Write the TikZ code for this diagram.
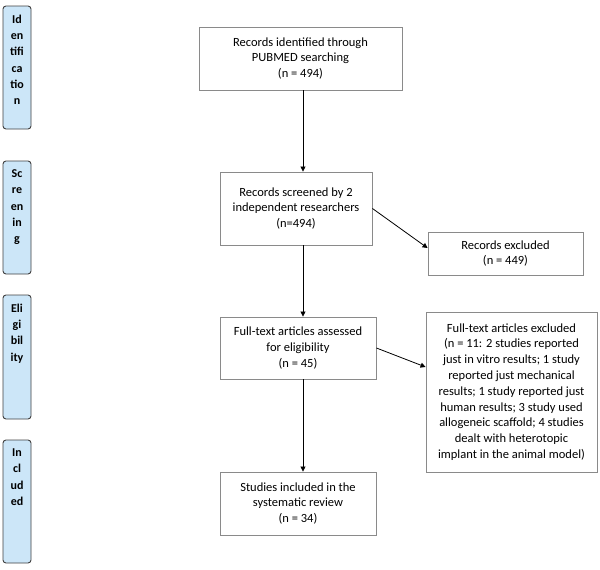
\documentclass[tikz,border=0pt]{standalone}
\usepackage{fontspec}
\setmainfont{Carlito}
\usetikzlibrary{arrows.meta}
\definecolor{sidefill}{HTML}{CCE6F8}
\definecolor{boxline}{HTML}{8A8A8A}
\begin{document}
\begin{tikzpicture}[x=1pt,y=-1pt,
  mainbox/.style={draw=boxline,line width=0.9pt,align=center,inner sep=0pt,
    font=\fontsize{12.5}{15.8}\selectfont},
  sidebox/.style={draw=black!75,fill=sidefill,rounded corners=3pt,line width=0.9pt,
    minimum width=28pt,inner sep=0pt},
  sidetext/.style={anchor=north,align=center,inner sep=0pt,
    font=\fontsize{12}{16.3}\selectfont\bfseries},
  arr/.style={-{Triangle[length=5pt,width=5pt]},line width=0.8pt}]
\useasboundingbox (0,0) rectangle (600,570);
% side boxes
\node[sidebox,minimum height=123pt] (id) at (17,67.5) {};
\node[sidetext] (idt) at ([yshift=-9pt]id.north) {Id\\en\\tifi\\ca\\tio\\n};
\node[sidebox,minimum height=113pt] (sc) at (17,217.5) {};
\node[sidetext] (sct) at ([yshift=-9pt]sc.north) {Sc\\re\\en\\in\\g};
\node[sidebox,minimum height=124pt] (el) at (17,357) {};
\node[sidetext] (elt) at ([yshift=-9pt]el.north) {Eli\\gi\\bil\\ity};
\node[sidebox,minimum height=123pt] (in) at (17,501.5) {};
\node[sidetext] (int) at ([yshift=-9pt]in.north) {In\\cl\\ud\\ed};
% main boxes
\node[mainbox,minimum width=203pt,minimum height=63pt] (b1) at (300.5,58.5)
  {Records identified through\\PUBMED searching\\(n = 494)};
\node[mainbox,minimum width=152pt,minimum height=73pt] (b2) at (296,208.5)
  {Records screened by 2\\independent researchers\\(n=494)};
\node[mainbox,minimum width=155pt,minimum height=43pt] (e1) at (505.5,253.5)
  {Records excluded\\(n = 449)};
\node[mainbox,minimum width=156pt,minimum height=62pt] (b3) at (298,348)
  {Full-text articles assessed\\for eligibility\\(n = 45)};
\node[mainbox,minimum width=171pt,minimum height=160pt] (e2) at (511.5,392)
  {Full-text articles excluded\\(n = 11: 2 studies reported\\just in vitro results; 1 study\\reported just mechanical\\results; 1 study reported just\\human results; 3 study used\\allogeneic scaffold; 4 studies\\dealt with heterotopic\\implant in the animal model)};
\node[mainbox,minimum width=156pt,minimum height=63pt] (b5) at (298,503.5)
  {Studies included in the\\systematic review\\(n = 34)};
% connectors
\coordinate (ax) at (303,0);
\draw[arr] (b1.south -| ax) -- (b2.north -| ax);
\draw[arr] (b2.south -| ax) -- (b3.north -| ax);
\draw[arr] (b3.south -| ax) -- (b5.north -| ax);
\draw[arr] (b2.east) -- ([yshift=5.5pt]e1.west);
\draw[arr] (b3.east) -- ([yshift=25pt]e2.west);
\end{tikzpicture}
\end{document}
